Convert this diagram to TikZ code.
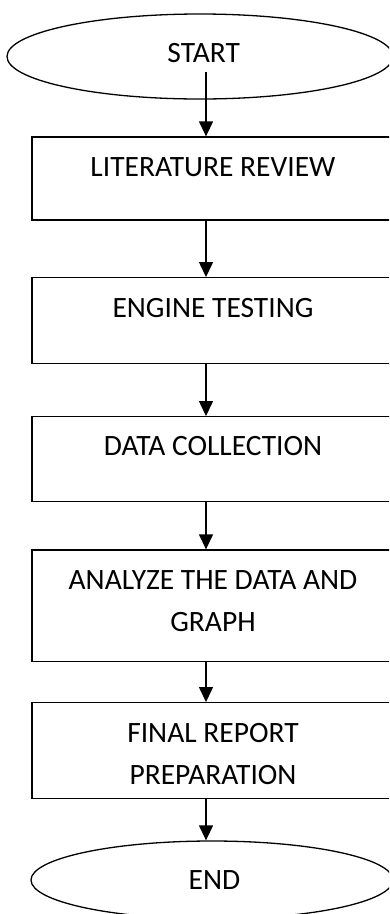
\documentclass[tikz,border=0pt]{standalone}
\usepackage{fontspec}
\setmainfont{Carlito}
\usetikzlibrary{shapes.geometric,arrows.meta}

\tikzset{
  flow/.style={draw=black, line width=1.3pt},
  stepbox/.style={flow, rectangle, minimum width=362pt, inner sep=0pt},
  terminal/.style={flow, ellipse, inner sep=0pt},
  label text/.style={anchor=base, inner sep=0pt, font=\fontsize{29.5}{35}\selectfont},
  arr/.style={line width=1.3pt, -{Triangle[length=15pt,width=14pt]}}
}

\begin{document}
\begin{tikzpicture}[x=1pt, y=-1pt]
  \useasboundingbox (0,0) rectangle (389,914);
  \clip (0,0) rectangle (389,914);

  % terminals
  \node[terminal, minimum width=386pt, minimum height=85pt] (start) at (200,56.5) {};
  \node[terminal, minimum width=362pt, minimum height=78pt] (end) at (212,880) {};

  % process boxes
  \node[stepbox, minimum height=83pt]    (lit) at (213,178.5) {};
  \node[stepbox, minimum height=85.6pt]  (eng) at (213,320.5) {};
  \node[stepbox, minimum height=85pt]    (dat) at (213,459.2) {};
  \node[stepbox, minimum height=111.7pt] (ana) at (213,605.85) {};
  \node[stepbox, minimum height=95.6pt]  (fin) at (213,750.5) {};

  % captions
  \node[label text] (tstart) at (203.7,62)  {START};
  \node[label text] (tlit)   at (213,176.7) {LITERATURE REVIEW};
  \node[label text] (teng)   at (213,317.3) {ENGINE TESTING};
  \node[label text] (tdat)   at (213,455)   {DATA COLLECTION};
  \node[label text] (tana1)  at (213,589.3) {ANALYZE THE DATA AND};
  \node[label text] (tana2)  at (213,631.7) {GRAPH};
  \node[label text] (tfin1)  at (213,742)   {FINAL REPORT};
  \node[label text] (tfin2)  at (213,784)   {PREPARATION};
  \node[label text] (tend)   at (214.5,889) {END};

  % flow arrows along the common axis
  \coordinate (ax) at (206,0);
  \coordinate (stem) at (206,72);
  \draw[arr] (stem) -- (stem |- lit.north);
  \draw[arr] (lit.south -| ax) -- (eng.north -| ax);
  \draw[arr] (eng.south -| ax) -- (dat.north -| ax);
  \draw[arr] (dat.south -| ax) -- (ana.north -| ax);
  \draw[arr] (ana.south -| ax) -- (fin.north -| ax);
  \draw[arr] (fin.south -| ax) -- (end.north -| ax);
\end{tikzpicture}
\end{document}
